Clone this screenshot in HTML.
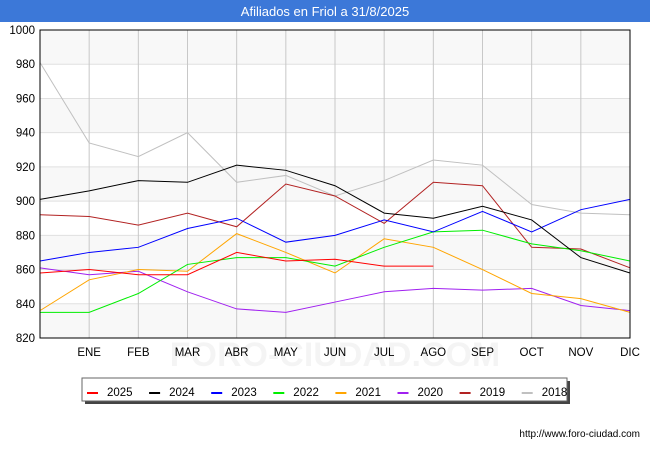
<!DOCTYPE html>
<html><head><meta charset="utf-8"><style>
body{margin:0;width:650px;height:450px;background:#fff;font-family:"Liberation Sans",sans-serif;overflow:hidden}
</style></head><body>
<svg width="650" height="450" xmlns="http://www.w3.org/2000/svg" id="chart">
<rect x="0" y="0" width="650" height="22" fill="#3c78d8"/>
<text x="325" y="16" text-anchor="middle" fill="#fff" font-size="13">Afiliados en Friol a 31/8/2025</text>
<g id="bands"></g><g id="grid"></g>
<text x="335" y="366" text-anchor="middle" fill="#000" opacity="0.04" font-size="34" font-weight="bold">FORO-CIUDAD.COM</text>
<g id="series"></g>
<rect x="40" y="30" width="590" height="308" fill="none" stroke="#000" stroke-width="1"/>
<g id="axes"></g>
<rect x="85" y="381" width="485" height="23" fill="#444"/>
<rect x="82" y="378" width="485" height="23" fill="#fff" stroke="#666"/>
<g id="legend"></g>
<text x="640" y="437" text-anchor="end" font-size="10" fill="#000">http://www.foro-ciudad.com</text>
</svg>
<script>
const months=["","ENE","FEB","MAR","ABR","MAY","JUN","JUL","AGO","SEP","OCT","NOV","DIC"];
const yTicks=[820,840,860,880,900,920,940,960,980,1000];
const years=["2025","2024","2023","2022","2021","2020","2019","2018"];
const colors=["#ff0000","#000000","#0000ff","#00ee00","#ffa500","#a020f0","#b22222","#c0c0c0"];
const s2025=[858,860,857,857,870,865,866,862,862];
const s2024=[901,906,912,911,921,918,909,893,890,897,889,867,858];
const s2023=[865,870,873,884,890,876,880,889,882,894,882,895,901];
const s2022=[835,835,846,863,867,867,862,873,882,883,875,871,865];
const s2021=[836,854,860,859,881,870,858,878,873,860,846,843,835];
const s2020=[861,857,859,847,837,835,841,847,849,848,849,839,836];
const s2019=[892,891,886,893,885,910,903,887,911,909,873,872,861];
const s2018=[981,934,926,940,911,915,903,912,924,921,898,893,892];
const allSeries=[s2025,s2024,s2023,s2022,s2021,s2020,s2019,s2018];
const NS="http://www.w3.org/2000/svg";
const X=i=>40+i*(590/12);
const Y=v=>30+(1000-v)*(308/180);
function mk(t,a,p){const e=document.createElementNS(NS,t);for(const k in a)e.setAttribute(k,a[k]);p.appendChild(e);return e;}
const bands=document.getElementById('bands'),grid=document.getElementById('grid'),axes=document.getElementById('axes');
for(let i=0;i<yTicks.length-1;i++){
  if(i%2===0){const r=mk('rect',{x:40,y:Y(yTicks[i+1]),width:590,height:Y(yTicks[i])-Y(yTicks[i+1]),fill:'#f8f8f8'},bands);
  
  }
}
yTicks.forEach(v=>{
  const l=mk('line',{x1:40,x2:630,y1:Y(v),y2:Y(v),stroke:'#e0e0e0'},grid);
  
  
  const t=mk('text',{x:35,y:Y(v)+4,'text-anchor':'end','font-size':'11.5',fill:'#000'},axes);t.textContent=v;
  
  
});
months.forEach((m,i)=>{
  const l=mk('line',{x1:X(i),x2:X(i),y1:30,y2:338,stroke:'#c8c8c8'},grid);
  
  
  if(m){const t=mk('text',{x:X(i),y:356,'text-anchor':'middle','font-size':'11.5',fill:'#000'},axes);t.textContent=m;
  
  }
});
const sg=document.getElementById('series');
for(let k=allSeries.length-1;k>=0;k--){
  const pts=allSeries[k].map((v,i)=>X(i)+','+Y(v)).join(' ');
  const p=mk('polyline',{points:pts,fill:'none',stroke:colors[k],'stroke-width':1},sg);
  
  
}
const lg=document.getElementById('legend');
years.forEach((y,i)=>{
  const x=87+i*62.1;
  const l=mk('line',{x1:x,x2:x+11,y1:393,y2:393,stroke:colors[i],'stroke-width':2},lg);
  
  
  const t=mk('text',{x:x+20,y:396,'font-size':'11.5',fill:'#000'},lg);t.textContent=y;
  
  
});
</script>
</body></html>
